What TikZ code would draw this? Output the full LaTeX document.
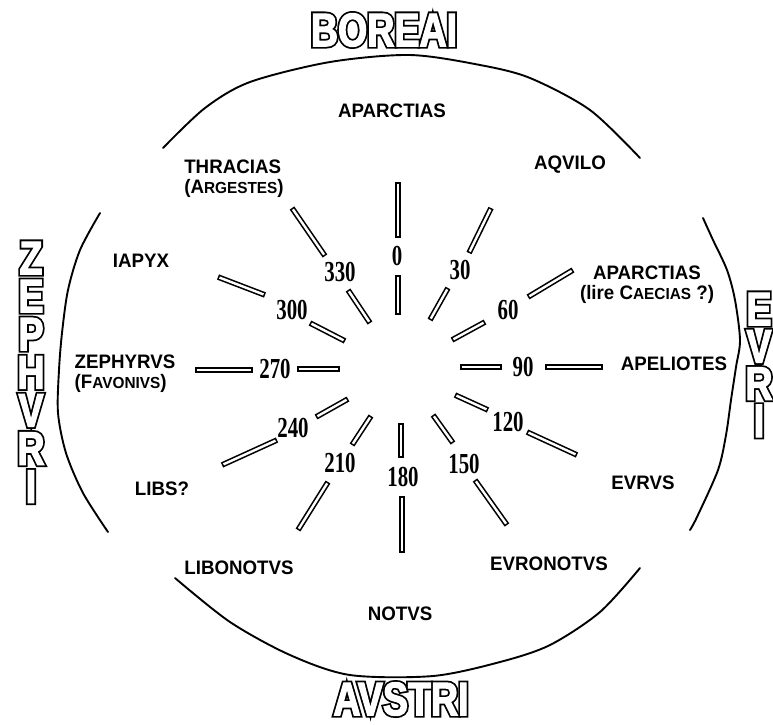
\documentclass[tikz,border=0pt]{standalone}
\usepackage{fontspec}
\setmainfont{Liberation Sans}
\newfontfamily\windfont{Liberation Sans}[FakeStretch=0.96]
\newfontfamily\degfont{Liberation Serif}[FakeStretch=0.72]
\newfontfamily\quarterfont{Liberation Sans Bold}[FakeStretch=0.8, FakeBold=2.5]
\newfontfamily\quarterink{Liberation Sans Bold}[FakeStretch=0.8, FakeBold=10]
\usetikzlibrary{positioning}
\newcommand{\sm}[1]{{\fontsize{16}{20}\selectfont #1}}
\tikzset{
  wind/.style={font=\windfont\bfseries\fontsize{19.5}{20}\selectfont,
               inner sep=0pt, align=center},
  deg/.style={font=\degfont\bfseries\fontsize{29}{30}\selectfont, inner sep=0pt},
  bar/.style={line width=5.6pt,
              postaction={draw=white, line width=2.4pt, shorten <=1.6pt, shorten >=1.6pt}},
  rim/.style={line width=1.9pt, line cap=round, line join=round},
  quarter/.style={font=\quarterfont\fontsize{47}{47}\selectfont, inner sep=0pt, text=white},
  quarterback/.style={font=\quarterink\fontsize{47}{47}\selectfont, inner sep=0pt, text=black},
}
% hollow letters: heavy black copy under a white one
\newcommand{\hollowword}[3]{%
  \node[quarterback] at (#2) {#3};
  \node[quarter] (#1) at (#2) {#3};}

\begin{document}
\begin{tikzpicture}[x=1pt, y=-1pt]
  \useasboundingbox (0,0) rectangle (773,724);
  \fill[white] (0,0) rectangle (773,724);

  % Quarter names
  \hollowword{boreai}{384,30}{BOREAI}
  \hollowword{avstri}{401,699}{AVSTRI}
  \foreach \ch [count=\i] in {Z,E,P,H,V,R,I}
    {\hollowword{zeph\i}{31,{258+38.1*(\i-1)}}{\ch}}
  \foreach \ch [count=\i] in {E,V,R,I}
    {\hollowword{evri\i}{759,{309+37.3*(\i-1)}}{\ch}}

  % Rims
  \draw[rim] plot[smooth] coordinates {(163,148) (205,108) (250,82) (330,62) (410,55)
    (480,65) (530,78) (590,110) (640,158)};
  \draw[rim] plot[smooth] coordinates {(175,578) (230,622) (290,655) (350,675) (433,676)
    (500,662) (550,645) (600,612) (640,568)};
  \draw[rim] plot[smooth] coordinates {(100,213) (80,250) (68,290) (62,333) (59,370)
    (58,413) (66,453) (83,493) (108,532)};
  \draw[rim] plot[smooth] coordinates {(703,218) (713,240) (727,270) (735,300) (740,340)
    (736,367) (731,400) (726,435) (718,470) (697,517) (690,530)};

  % Wind names
  \node[wind] (aparctias) at (392,111) {APARCTIAS};
  \node[wind] (aqvilo) at (570,165) {AQVILO};
  \node[wind] (caecias) at (647,285) {APARCTIAS\\(lire C\sm{AECIAS} ?)};
  \node[wind] (apeliotes) at (674,364) {APELIOTES};
  \node[wind] (evrvs) at (643,483) {EVRVS};
  \node[wind] (evronotvs) at (549,564) {EVRONOTVS};
  \node[wind] (notvs) at (400,614) {NOTVS};
  \node[wind] (libonotvs) at (239,568) {LIBONOTVS};
  \node[wind] (libs) at (162,489) {LIBS?};
  \node[wind, align=left] (zephyrvs) at (125,374) {ZEPHYRVS\\(F\sm{AVONIVS})};
  \node[wind] (iapyx) at (141,261) {IAPYX};
  \node[wind, align=left] (thracias) at (234,179) {THRACIAS\\(A\sm{RGESTES})};

  % Degrees
  \node[deg] (d0) at (397,256) {0};
  \node[deg] (d30) at (460,270) {30};
  \node[deg] (d60) at (508,310) {60};
  \node[deg] (d90) at (523,367) {90};
  \node[deg] (d120) at (508,422) {120};
  \node[deg] (d150) at (464,464) {150};
  \node[deg] (d180) at (403,477) {180};
  \node[deg] (d210) at (340,463) {210};
  \node[deg] (d240) at (293,428) {240};
  \node[deg] (d270) at (275,369) {270};
  \node[deg] (d300) at (292,310) {300};
  \node[deg] (d330) at (340,272) {330};

  % Bars
  \draw[bar] (398,182) -- (398,238);
  \draw[bar] (398,275) -- (398,315);
  \draw[bar] (491,208) -- (469,253);
  \draw[bar] (448,288) -- (430,320);
  \draw[bar] (573,270) -- (528,297);
  \draw[bar] (485,322) -- (452,340);
  \draw[bar] (545,367) -- (603,367);
  \draw[bar] (460,367) -- (502,367);
  \draw[bar] (527,432) -- (577,455);
  \draw[bar] (455,395) -- (488,410);
  \draw[bar] (475,480) -- (507,525);
  \draw[bar] (433,415) -- (453,443);
  \draw[bar] (402,496) -- (402,553);
  \draw[bar] (401,423) -- (401,458);
  \draw[bar] (328,482) -- (298,530);
  \draw[bar] (371,416) -- (352,445);
  \draw[bar] (277,440) -- (222,465);
  \draw[bar] (348,399) -- (316,417);
  \draw[bar] (195,370) -- (253,370);
  \draw[bar] (297,369) -- (340,369);
  \draw[bar] (218,277) -- (265,295);
  \draw[bar] (310,323) -- (345,341);
  \draw[bar] (292,208) -- (325,256);
  \draw[bar] (348,290) -- (370,323);

\end{tikzpicture}
\end{document}
